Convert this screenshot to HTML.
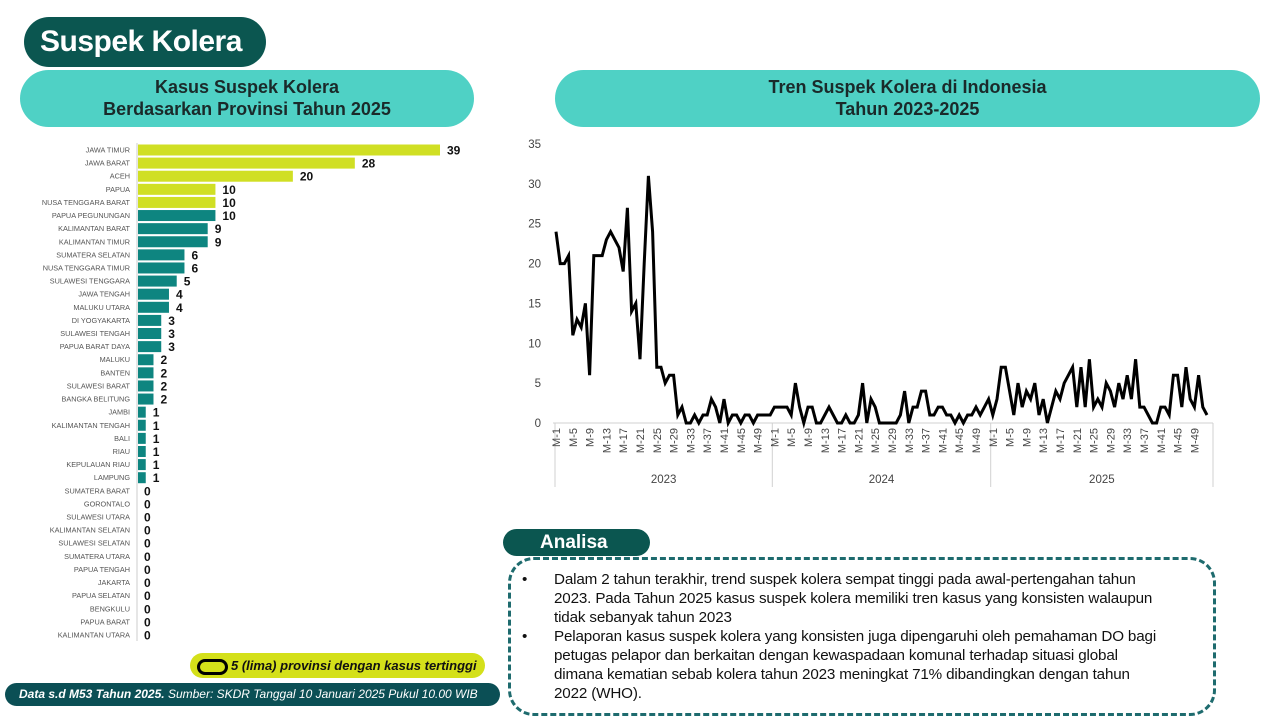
<!DOCTYPE html>
<html><head><meta charset="utf-8">
<style>
body{margin:0;width:1280px;height:720px;background:#fff;position:relative;overflow:hidden;font-family:"Liberation Sans",sans-serif;}
.abs{position:absolute;}
.pill{border-radius:30px;}
</style></head>
<body>
<div class="abs pill" style="left:24px;top:17px;width:242px;height:50px;background:#0b5650;color:#fff;font-weight:bold;font-size:30px;line-height:50px;padding-left:16px;box-sizing:border-box;letter-spacing:-0.5px;">Suspek Kolera</div>
<div class="abs pill" style="left:20px;top:70px;width:454px;height:57px;background:#4fd1c5;font-weight:bold;font-size:18px;line-height:22px;text-align:center;padding-top:6px;box-sizing:border-box;color:#1a2a2a;">Kasus Suspek Kolera<br>Berdasarkan Provinsi Tahun 2025</div>
<div class="abs pill" style="left:555px;top:70px;width:705px;height:57px;background:#4fd1c5;font-weight:bold;font-size:18px;line-height:22px;text-align:center;padding-top:6px;box-sizing:border-box;color:#1a2a2a;">Tren Suspek Kolera di Indonesia<br>Tahun 2023-2025</div>

<svg class="abs" style="left:0;top:0" width="1280" height="720">
<g id="bars"></g>
<g id="line"></g>
</svg>

<div class="abs pill" style="left:190px;top:653px;width:295px;height:25px;background:#d4e01a;font-size:13px;font-style:italic;font-weight:bold;line-height:25px;color:#111;">
<span style="display:inline-block;width:25px;height:10px;border:3px solid #000;border-radius:8px;vertical-align:middle;margin:0 3px 0 7px;"></span>5 (lima) provinsi dengan kasus tertinggi</div>
<div class="abs pill" style="left:5px;top:683px;width:495px;height:23px;background:#0b4f55;color:#fff;font-size:12px;font-style:italic;line-height:23px;padding-left:14px;box-sizing:border-box;white-space:nowrap;"><b>Data s.d M53 Tahun 2025.</b> Sumber: SKDR Tanggal 10 Januari 2025 Pukul 10.00 WIB</div>

<div class="abs" style="left:508px;top:557px;width:708px;height:159px;border:3px dashed #1e6b6e;border-radius:26px;box-sizing:border-box;"></div>
<div class="abs pill" style="left:503px;top:529px;width:147px;height:27px;background:#0b5650;color:#fff;font-weight:bold;font-size:19px;line-height:27px;padding-left:37px;box-sizing:border-box;">Analisa</div>
<div class="abs" style="left:522px;top:570px;font-size:15.2px;line-height:19px;color:#111;white-space:nowrap;letter-spacing:-0.15px;">
<div style="position:relative;padding-left:32px;"><span style="position:absolute;left:0">•</span>Dalam 2 tahun terakhir, trend suspek kolera sempat tinggi pada awal-pertengahan tahun<br>2023. Pada Tahun 2025 kasus suspek kolera memiliki tren kasus yang konsisten walaupun<br>tidak sebanyak tahun 2023</div>
<div style="position:relative;padding-left:32px;"><span style="position:absolute;left:0">•</span>Pelaporan kasus suspek kolera yang konsisten juga dipengaruhi oleh pemahaman DO bagi<br>petugas pelapor dan berkaitan dengan kewaspadaan komunal terhadap situasi global<br>dimana kematian sebab kolera tahun 2023 meningkat 71% dibandingkan dengan tahun<br>2022 (WHO).</div>
</div>

<script>
const provinces=["JAWA TIMUR","JAWA BARAT","ACEH","PAPUA","NUSA TENGGARA BARAT","PAPUA PEGUNUNGAN","KALIMANTAN BARAT","KALIMANTAN TIMUR","SUMATERA SELATAN","NUSA TENGGARA TIMUR","SULAWESI TENGGARA","JAWA TENGAH","MALUKU UTARA","DI YOGYAKARTA","SULAWESI TENGAH","PAPUA BARAT DAYA","MALUKU","BANTEN","SULAWESI BARAT","BANGKA BELITUNG","JAMBI","KALIMANTAN TENGAH","BALI","RIAU","KEPULAUAN RIAU","LAMPUNG","SUMATERA BARAT","GORONTALO","SULAWESI UTARA","KALIMANTAN SELATAN","SULAWESI SELATAN","SUMATERA UTARA","PAPUA TENGAH","JAKARTA","PAPUA SELATAN","BENGKULU","PAPUA BARAT","KALIMANTAN UTARA"];
const cases=[39,28,20,10,10,10,9,9,6,6,5,4,4,3,3,3,2,2,2,2,1,1,1,1,1,1,0,0,0,0,0,0,0,0,0,0,0,0];
const top5Count=5;

const weeks2023=[24,20,20,21,11,13,12,15,6,21,21,21,23,24,23,22,19,27,14,15,8,20,31,24,7,7,5,6,6,1,2,0,0,1,0,1,1,3,2,0,3,0,1,1,0,1,1,0,1,1,1,1];
const weeks2024=[2,2,2,2,1,5,2,0,2,2,0,0,1,2,1,0,0,1,0,0,1,5,0,3,2,0,0,0,0,0,1,4,0,2,2,4,4,1,1,2,2,1,1,0,1,0,1,1,2,1,2,3];
const weeks2025=[1,3,7,7,4,1,5,2,4,3,5,1,3,0,2,4,3,5,6,7,2,7,2,8,2,3,2,5,4,2,5,3,6,3,8,2,2,1,0,0,2,2,1,6,6,2,7,3,2,6,2,1];
const years=["2023","2024","2025"];
const yTicks=[0,5,10,15,20,25,30,35];

const NS="http://www.w3.org/2000/svg";
function mk(tag,attrs,parent,text){const e=document.createElementNS(NS,tag);for(const k in attrs)e.setAttribute(k,attrs[k]);if(text!==undefined)e.textContent=text;parent.appendChild(e);return e;}

const bg=document.getElementById('bars');
const bx0=138, bScale=302/39, rowY0=150, rowH=(635-150)/(provinces.length-1);
const bxs=v=>bx0+v*bScale;
const rowY=i=>rowY0+i*rowH;
const ax=mk('line',{x1:137,y1:143,x2:137,y2:641,stroke:'#ccc','stroke-width':1},bg);


provinces.forEach((p,i)=>{
  const y=rowY(i);
  const t=mk('text',{x:130,y:y+2.5,'text-anchor':'end','font-size':7.3,fill:'#555'},bg,p);
  
  
  const v=cases[i];
  if(v>0){
    const r=mk('rect',{x:bx0,y:y-5.5,width:bxs(v)-bx0,height:11,fill:i<top5Count?'#d0df24':'#0e8580'},bg);
    
    
  }
  const l=mk('text',{x:bxs(v)+(v>0?7:6),y:y+4.5,'font-size':12,'font-weight':'bold',fill:'#111'},bg,String(v));
  
  
});

const lg=document.getElementById('line');
const all=weeks2023.concat(weeks2024,weeks2025);
const lx0=556, step=4.2, yb=423, ys=(423-144)/35;
const xs=i=>lx0+i*step;
const yv=v=>yb-v*ys;
yTicks.forEach(t=>{
  const e=mk('text',{x:541,y:yv(t)+4,'text-anchor':'end','font-size':11.5,fill:'#444'},lg,String(t));
  
  
});
const base=mk('line',{x1:553,y1:yb,x2:1213,y2:yb,stroke:'#d0d0d0'},lg);


const seps=[0,weeks2023.length,weeks2023.length+weeks2024.length,all.length];
const sepX=k=>k===0?555:(k===all.length?1213:xs(k-0.5));
seps.forEach(k=>{
  const s=mk('line',{x1:sepX(k),y1:yb,x2:sepX(k),y2:487,stroke:'#d0d0d0'},lg);
  
  
});
years.forEach((yr,j)=>{
  const cx=(sepX(seps[j])+sepX(seps[j+1]))/2;
  const e=mk('text',{x:cx,y:483,'text-anchor':'middle','font-size':11.5,fill:'#444'},lg,yr);
  
  
});
[weeks2023,weeks2024,weeks2025].forEach((arr,j)=>{
  for(let w=0;w<arr.length;w+=4){
    const x=xs(seps[j]+w)+4;
    const e=mk('text',{x:x,y:428,'text-anchor':'end','font-size':11,fill:'#444',transform:`rotate(-90 ${x} 428)`},lg,'M-'+(w+1));
    
    
  }
});
const pts=all.map((v,i)=>xs(i).toFixed(1)+','+yv(v).toFixed(1)).join(' ');
const pl=mk('polyline',{points:pts,fill:'none',stroke:'#000','stroke-width':3,'stroke-linejoin':'miter'},lg);


</script>
</body></html>
